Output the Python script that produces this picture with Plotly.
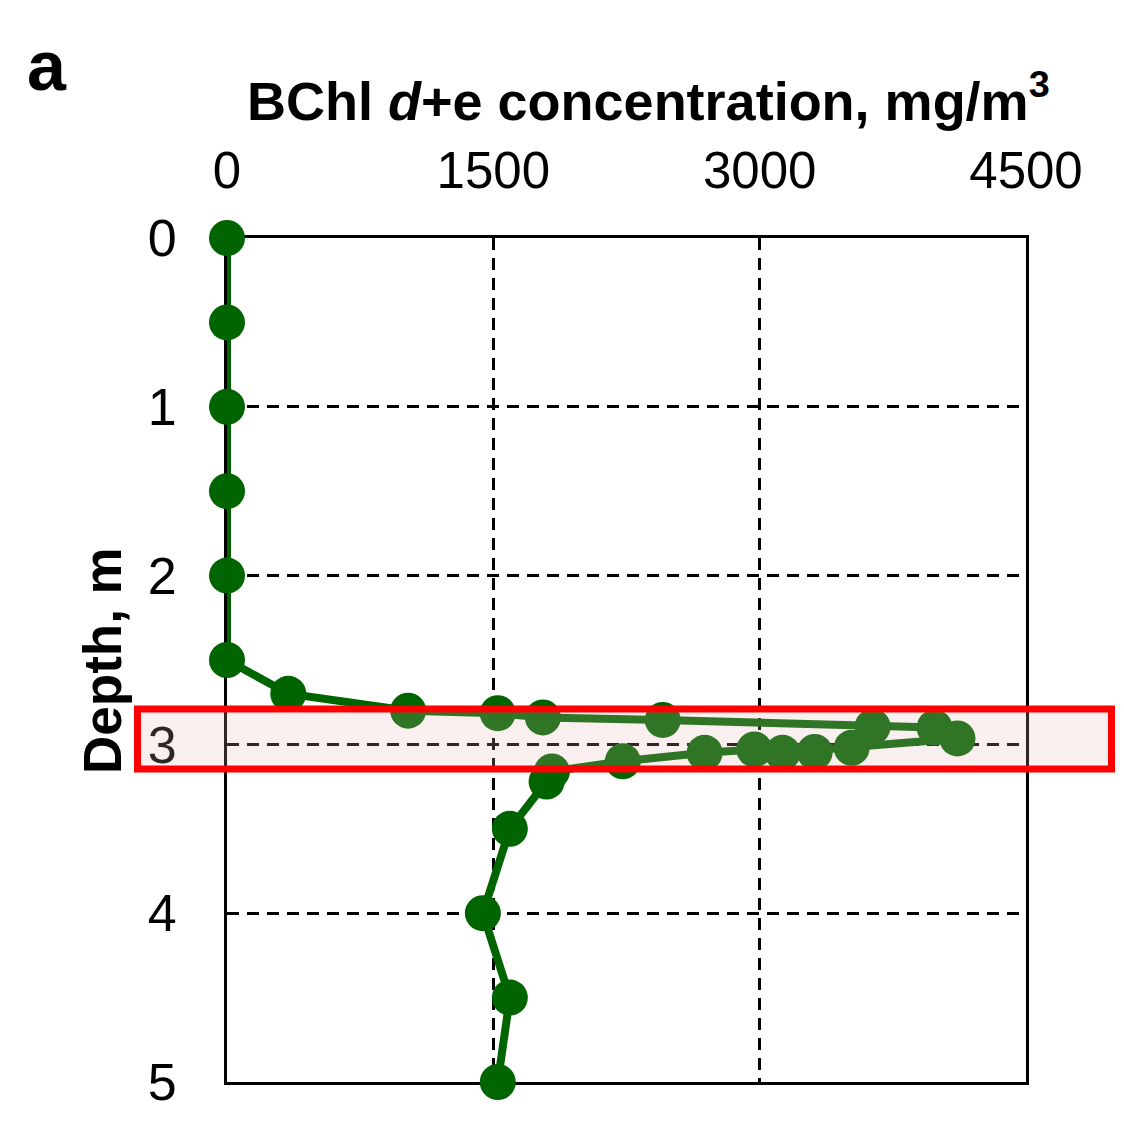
import plotly.graph_objects as go

# Data
depth_m = [0, 0.5, 1.0, 1.5, 2.0, 2.5, 2.70, 2.80, 2.815, 2.84, 2.855, 2.895, 2.90, 2.965,
           3.02, 3.045, 3.05, 3.03, 3.05, 3.10, 3.16, 3.22, 3.5, 4.0, 4.5, 5.0]
bchl_conc = [0, 0, 0, 0, 0, 0, 345, 1020, 1525, 1779, 2454, 3636, 3985, 4114,
             3518, 3310, 3129, 2970, 2690, 2229, 1830, 1800, 1593, 1441, 1593, 1525]

x_ticks = [0, 1500, 3000, 4500]
y_ticks = [0, 1, 2, 3, 4, 5]
highlight_depth = [2.79, 3.146]

# page has an 8px body margin; work in screen pixels and convert
OFF = 8
W, H = 1124 - 2 * OFF, 1131 - 2 * OFF
PL, PR, PT, PB = 227, 1026, 238, 1082  # plot area on screen
L, T = PL - OFF, PT - OFF
R, B = W - (PR - OFF), H - (PB - OFF)
pw, ph = PR - PL, PB - PT

def px_x(p):
    return (p - PL) / pw

def px_y(p):
    return (PB - p) / ph

FONT = "Arial, Liberation Sans, sans-serif"
green = "#006400"

fig = go.Figure()
fig.add_trace(go.Scatter(
    x=bchl_conc, y=depth_m, mode="lines+markers",
    line=dict(color=green, width=8),
    marker=dict(color=green, size=36),
    cliponaxis=False, showlegend=False,
))

grid = dict(showgrid=True, gridcolor="black", gridwidth=2.5, griddash="12px,8px")

fig.update_layout(
    width=W, height=H,
    margin=dict(l=L, r=R, t=T, b=B, pad=0),
    paper_bgcolor="white", plot_bgcolor="white",
    font=dict(family=FONT, color="black"),
    xaxis=dict(side="top", range=[0, 4500], tickvals=x_ticks,
               ticktext=[str(v) for v in x_ticks],
               tickfont=dict(size=51, family=FONT), ticks="", ticklabelstandoff=27,
               showline=True, linecolor="black", linewidth=3, mirror=True,
               zeroline=False, layer="below traces", **grid),
    yaxis=dict(range=[5, 0], tickvals=y_ticks,
               tickfont=dict(size=52, family=FONT), ticks="", ticklabelstandoff=37,
               showline=True, linecolor="black", linewidth=3, mirror=True,
               zeroline=False, layer="below traces", **grid),
)

# highlight box
fig.add_shape(type="rect", xref="paper", yref="y",
              x0=px_x(137.5), x1=px_x(1111.5),
              y0=highlight_depth[0], y1=highlight_depth[1],
              fillcolor="rgba(226,178,175,0.21)", line=dict(color="#ff0000", width=7),
              layer="above")

fig.add_annotation(xref="paper", yref="paper", x=px_x(648), y=px_y(97),
                   text="<b>BChl <i>d</i>+e concentration, mg/m<sup>3</sup></b>",
                   showarrow=False, font=dict(size=54, family=FONT),
                   xanchor="center", yanchor="middle")
fig.add_annotation(xref="paper", yref="paper", x=px_x(102), y=px_y(661),
                   text="<b>Depth, m</b>", textangle=-90,
                   showarrow=False, font=dict(size=53, family=FONT),
                   xanchor="center", yanchor="middle")
fig.add_annotation(xref="paper", yref="paper", x=px_x(47), y=px_y(66),
                   text="<b>a</b>", showarrow=False, font=dict(size=70, family=FONT),
                   xanchor="center", yanchor="middle")

fig.write_html("out.html")
